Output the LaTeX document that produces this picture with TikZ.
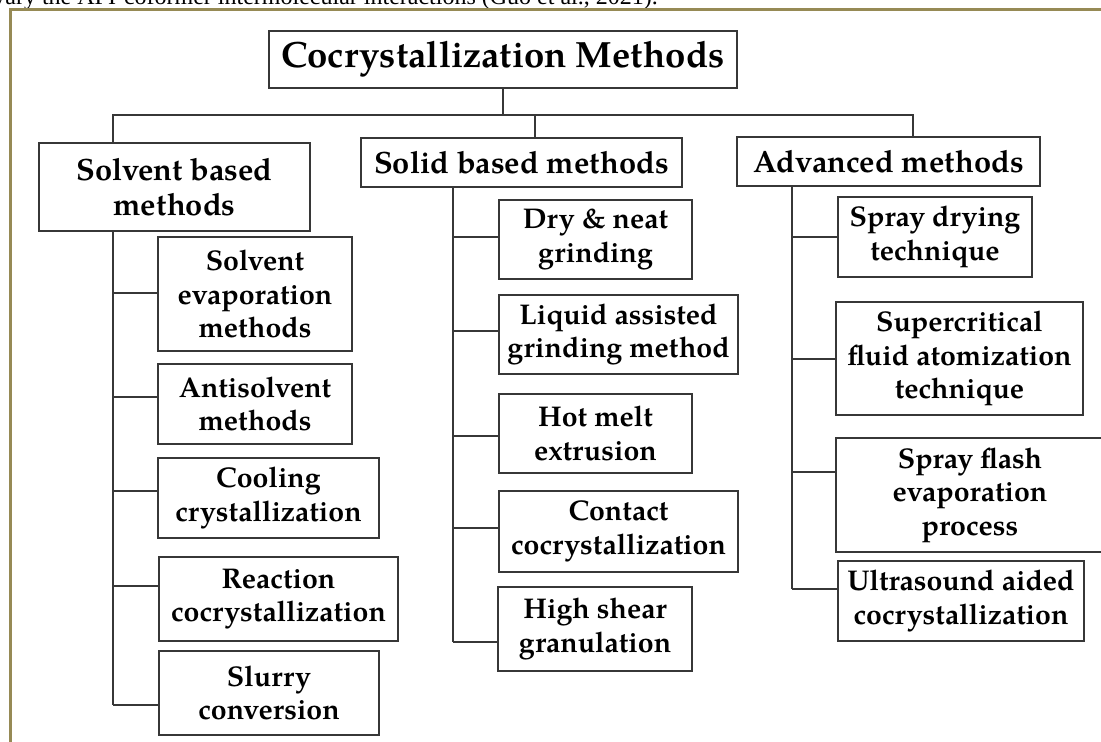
\documentclass[tikz,border=0pt]{standalone}
\usepackage{fontspec}
\setmainfont{texgyrepagella}[Extension=.otf,UprightFont=*-regular,BoldFont=*-bold,ItalicFont=*-italic,BoldItalicFont=*-bolditalic]
\newfontfamily\captionserif{Liberation Serif}
\definecolor{framecol}{RGB}{150,138,85}
\definecolor{linecol}{RGB}{55,55,55}

\begin{document}
\begin{tikzpicture}[x=1pt,y=-1pt,
        box/.style={draw=linecol,line width=1.3pt,align=center,inner sep=2pt,
            font=\bfseries\fontsize{28.5}{33.5}\selectfont},
        headbox/.style={box,font=\bfseries\fontsize{30.8}{35}\selectfont},
        titlebox/.style={box,font=\bfseries\fontsize{36.5}{40}\selectfont},
        link/.style={draw=linecol,line width=1.3pt}]
        \useasboundingbox (0,0) rectangle (1101,742);

        % cut caption and frame
        \node[anchor=base east,inner sep=0,font=\captionserif\fontsize{24}{27}\selectfont] (cap) at (658,4)
            {vary the API-coformer intermolecular interactions (Guo et al., 2021).};
        \draw[framecol,line width=2.2pt] (10.5,745) -- (10.5,9.5) -- (1110,9.5);

        % top levels
        \node[titlebox,minimum width=468pt,minimum height=57pt] (title) at (503,59.5) {Cocrystallization Methods};
        \node[headbox,minimum width=271pt,minimum height=88pt] (solvent) at (174.5,187) {Solvent based\\methods};
        \node[headbox,minimum width=321pt,minimum height=49pt] (solid) at (521.5,162.5) {Solid based methods};
        \node[headbox,minimum width=303pt,minimum height=49pt] (advanced) at (888.5,161.5) {Advanced methods};

        \coordinate (busL) at (113,115);
        \coordinate (busM) at (535,115);
        \coordinate (busR) at (913,115);
        \draw[link] (title.south) -- (title.south |- busL);
        \draw[link] (solvent.north -| busL) -- (busL) -- (busR) -- (advanced.north -| busR);
        \draw[link] (busM) -- (solid.north -| busM);

        % solvent based
        \node[box,minimum width=194pt,minimum height=114pt] (sev) at (255,294) {Solvent\\evaporation\\methods};
        \node[box,minimum width=194pt,minimum height=80pt] (anti) at (255,404) {Antisolvent\\methods};
        \node[box,minimum width=221pt,minimum height=80pt] (cool) at (268.5,498) {Cooling\\crystallization};
        \node[box,minimum width=239pt,minimum height=84pt] (react) at (278.5,599) {Reaction\\cocrystallization};
        \node[box,minimum width=220pt,minimum height=84pt] (slurry) at (269,693) {Slurry\\conversion};

        % solid based
        \node[box,minimum width=193pt,minimum height=79pt] (dry) at (595.5,239.5) {Dry \& neat\\grinding};
        \node[box,minimum width=239pt,minimum height=79pt] (liquid) at (618.5,334.5) {Liquid assisted\\grinding method};
        \node[box,minimum width=193pt,minimum height=79pt] (hot) at (595.5,433.5) {Hot melt\\extrusion};
        \node[box,minimum width=239pt,minimum height=81pt] (contact) at (618.5,531.5) {Contact\\cocrystallization};
        \node[box,minimum width=194pt,minimum height=84pt] (shear) at (595,629) {High shear\\granulation};

        % advanced
        \node[box,minimum width=194pt,minimum height=80pt] (spray) at (935,237) {Spray drying\\technique};
        \node[box,minimum width=247pt,minimum height=113pt] (super) at (959.5,358.5) {Supercritical\\fluid atomization\\technique};
        \node[box,minimum width=268pt,minimum height=114pt] (flash) at (970,495) {Spray flash\\evaporation\\process};
        \node[box,minimum width=246pt,minimum height=80pt] (ultra) at (961,601) {Ultrasound aided\\cocrystallization};

        % trunks and branches
        \draw[link] (solvent.south -| 113,0) -- (113,705);
        \foreach \n/\y in {sev/293,anti/397,cool/491,react/586,slurry/705}
            \draw[link] (113,\y) -- (\n.west |- 0,\y);
        \draw[link] (solid.south -| 453,0) -- (453,642);
        \foreach \n/\y in {dry/237,liquid/331,hot/436,contact/528,shear/642}
            \draw[link] (453,\y) -- (\n.west |- 0,\y);
        \draw[link] (advanced.south -| 792,0) -- (792,589);
        \foreach \n/\y in {spray/237,super/359,flash/472,ultra/589}
            \draw[link] (792,\y) -- (\n.west |- 0,\y);
    \end{tikzpicture}
\end{document}
